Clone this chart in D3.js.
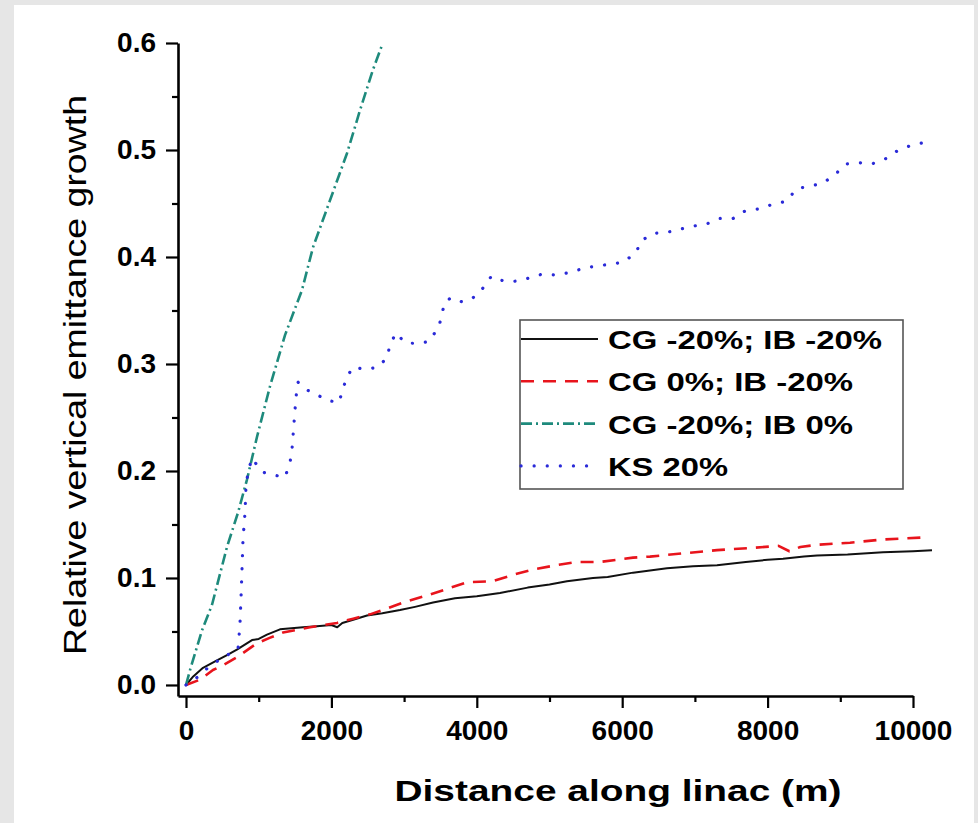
<!DOCTYPE html>
<html>
<head>
<meta charset="utf-8">
<script src="https://cdn.jsdelivr.net/npm/d3@7"></script>
<style>
  html, body { margin: 0; padding: 0; background: #e6e6e6; }
  svg { display: block; }
</style>
</head>
<body>
<svg id="chart" width="978" height="823"></svg>
<script>
// tick values
const xMajor = [0, 2000, 4000, 6000, 8000, 10000];
const xMinor = [1000, 3000, 5000, 7000, 9000];
const yMajor = [0, 0.1, 0.2, 0.3, 0.4, 0.5, 0.6];
const yMinor = [0.05, 0.15, 0.25, 0.35, 0.45, 0.55];

const legendLabels = ['CG -20%; IB -20%', 'CG 0%; IB -20%', 'CG -20%; IB 0%', 'KS 20%'];

// [distance (m), relative growth]
const cgm20ibm20 = [
  [0, 0], [100, 0.008], [234, 0.016], [400, 0.022], [564, 0.028], [700, 0.033], [908, 0.042],
  [1000, 0.043], [1114, 0.047], [1293, 0.052], [1450, 0.053], [1609, 0.054], [1800, 0.055],
  [2000, 0.056], [2080, 0.054], [2150, 0.058], [2300, 0.061], [2490, 0.065], [2700, 0.067],
  [2944, 0.070], [3150, 0.073], [3398, 0.077], [3700, 0.081], [4000, 0.083], [4319, 0.086],
  [4700, 0.091], [5000, 0.094], [5240, 0.097], [5598, 0.100], [5800, 0.101], [6149, 0.105],
  [6382, 0.107], [6616, 0.109], [6974, 0.111], [7304, 0.112], [7700, 0.115], [8000, 0.117],
  [8212, 0.118], [8500, 0.120], [8680, 0.121], [9100, 0.122], [9587, 0.124], [10000, 0.125],
  [10261, 0.126]
];

const cg0ibm20 = [
  [0, 0], [193, 0.005], [371, 0.014], [500, 0.018], [702, 0.026], [977, 0.039], [1150, 0.044],
  [1334, 0.049], [1706, 0.054], [2077, 0.058], [2300, 0.062], [2531, 0.066], [2750, 0.071],
  [2985, 0.077], [3329, 0.084], [3600, 0.090], [3865, 0.096], [4223, 0.097], [4500, 0.103],
  [4773, 0.108], [5100, 0.112], [5378, 0.115], [5694, 0.115], [6149, 0.119], [6382, 0.120],
  [6836, 0.123], [7304, 0.126], [7758, 0.128], [8150, 0.130], [8300, 0.125], [8450, 0.129],
  [8680, 0.131], [9133, 0.133], [9587, 0.136], [10193, 0.138]
];

const cgm20ib0 = [
  [0, 0], [60, 0.015], [220, 0.051], [358, 0.075], [564, 0.129], [715, 0.161], [839, 0.192],
  [977, 0.232], [1155, 0.279], [1362, 0.327], [1595, 0.369], [1747, 0.409], [1981, 0.453],
  [2215, 0.497], [2393, 0.537], [2572, 0.575], [2696, 0.598]
];

const ks20 = [
  [0, 0], [151, 0.007], [300, 0.016], [509, 0.026], [715, 0.033], [729, 0.045], [743, 0.058],
  [757, 0.082], [770, 0.107], [784, 0.136], [812, 0.161], [825, 0.185], [853, 0.199],
  [908, 0.212], [1045, 0.199], [1224, 0.196], [1362, 0.194], [1431, 0.208], [1458, 0.220],
  [1486, 0.245], [1513, 0.269], [1541, 0.283], [1651, 0.276], [1761, 0.273], [1939, 0.266],
  [2104, 0.264], [2160, 0.277], [2215, 0.288], [2297, 0.297], [2462, 0.295], [2641, 0.297],
  [2765, 0.306], [2806, 0.318], [2888, 0.329], [3013, 0.320], [3178, 0.319], [3343, 0.321],
  [3480, 0.335], [3560, 0.358], [3650, 0.362], [3800, 0.358], [3950, 0.362], [4100, 0.372],
  [4200, 0.382], [4350, 0.378], [4500, 0.377], [4700, 0.380], [4900, 0.384], [5100, 0.383],
  [5300, 0.386], [5500, 0.390], [5805, 0.393], [6011, 0.395], [6190, 0.404], [6259, 0.415],
  [6424, 0.422], [6616, 0.423], [6795, 0.426], [6988, 0.429], [7166, 0.431], [7345, 0.436],
  [7524, 0.436], [7689, 0.443], [7882, 0.445], [8061, 0.449], [8253, 0.452], [8404, 0.464],
  [8570, 0.466], [8762, 0.469], [8927, 0.477], [9078, 0.487], [9257, 0.488], [9436, 0.487],
  [9629, 0.492], [9780, 0.499], [9959, 0.504], [10151, 0.507], [10261, 0.510]
];

const series = [
  { data: cgm20ibm20, color: '#111111', width: 2, dash: null, cap: 'butt' },
  { data: cg0ibm20, color: '#e8141c', width: 2.6, dash: '13 9', cap: 'butt' },
  { data: cgm20ib0, color: '#1e8a7c', width: 2.6, dash: '11 4 2 4', cap: 'butt' },
  { data: ks20, color: '#2a2ad8', width: 3.2, dash: '0.1 13', cap: 'round' }
];

const svg = d3.select('#chart');
const font = '"Liberation Sans", Arial, sans-serif';

// white panel
svg.append('rect')
  .attr('x', 14).attr('y', 5)
  .attr('width', 960).attr('height', 818)
  .attr('fill', '#ffffff');

const x = d3.scaleLinear().domain([-110, 10000]).range([178, 913]);
const y = d3.scaleLinear().domain([-0.0103, 0.6]).range([696, 43]);

// x axis
const gx = svg.append('g').attr('transform', 'translate(0,696)');
gx.call(d3.axisBottom(x).tickValues(xMajor).tickSize(12).tickSizeOuter(0)
  .tickPadding(12).tickFormat(d3.format('d')));
gx.append('g').call(d3.axisBottom(x).tickValues(xMinor).tickSize(6).tickFormat(''))
  .select('.domain').remove();

// y axis
const gy = svg.append('g').attr('transform', 'translate(178,0)');
gy.call(d3.axisLeft(y).tickValues(yMajor).tickSize(12).tickSizeOuter(0)
  .tickPadding(10).tickFormat(d3.format('.1f')));
gy.append('g').call(d3.axisLeft(y).tickValues(yMinor).tickSize(6).tickFormat(''))
  .select('.domain').remove();

svg.selectAll('.domain').attr('stroke', '#000').attr('stroke-width', 2.6);
svg.selectAll('.tick line').attr('stroke', '#000').attr('stroke-width', 2.2);
svg.selectAll('.tick text')
  .attr('fill', '#000')
  .style('font-family', font)
  .style('font-weight', 'bold')
  .style('font-size', '28px');

// axis titles
svg.append('text')
  .attr('x', 618).attr('y', 801)
  .attr('text-anchor', 'middle')
  .attr('textLength', 447).attr('lengthAdjust', 'spacingAndGlyphs')
  .style('font-family', font).style('font-weight', 'bold').style('font-size', '29px')
  .text('Distance along linac (m)');

svg.append('text')
  .attr('transform', 'translate(86,375) rotate(-90)')
  .attr('text-anchor', 'middle')
  .attr('textLength', 560).attr('lengthAdjust', 'spacingAndGlyphs')
  .style('font-family', font).style('font-size', '31px')
  .text('Relative vertical emittance growth');

// curves
const line = d3.line().x(d => x(d[0])).y(d => y(d[1]));
const plot = svg.append('g');
series.forEach(s => {
  plot.append('path')
    .datum(s.data)
    .attr('d', line)
    .attr('fill', 'none')
    .attr('stroke', s.color)
    .attr('stroke-width', s.width)
    .attr('stroke-linecap', s.cap)
    .attr('stroke-linejoin', 'round')
    .attr('stroke-dasharray', s.dash);
});

// legend
const legend = svg.append('g');
legend.append('rect')
  .attr('x', 520).attr('y', 320)
  .attr('width', 383).attr('height', 169)
  .attr('fill', '#fff')
  .attr('stroke', '#555').attr('stroke-width', 1.6);

const textWidths = [274, 245, 245, 120];
series.forEach((s, i) => {
  const cy = 339 + i * 42.3;
  legend.append('line')
    .attr('x1', 521).attr('x2', 598)
    .attr('y1', cy).attr('y2', cy)
    .attr('stroke', s.color)
    .attr('stroke-width', s.width)
    .attr('stroke-linecap', s.cap)
    .attr('stroke-dasharray', s.dash);
  legend.append('text')
    .attr('x', 608).attr('y', cy + 10)
    .attr('textLength', textWidths[i]).attr('lengthAdjust', 'spacingAndGlyphs')
    .style('font-family', font).style('font-weight', 'bold').style('font-size', '26px')
    .text(legendLabels[i]);
});
</script>
</body>
</html>
